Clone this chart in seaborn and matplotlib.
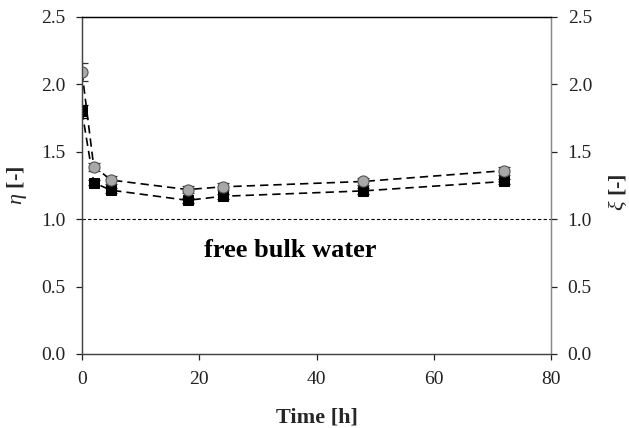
import numpy as np
import pandas as pd
import matplotlib
matplotlib.use("Agg")
import matplotlib.pyplot as plt
import seaborn as sns

# Measured values
time_h = [0, 2, 5, 18, 24, 48, 72]
eta = [2.09, 1.39, 1.29, 1.22, 1.24, 1.28, 1.36]
eta_err = [0.065, 0.03, 0.03, 0.025, 0.025, 0.025, 0.03]
xi = [1.80, 1.27, 1.215, 1.14, 1.17, 1.21, 1.28]
xi_err = [0.05, 0.02, 0.02, 0.02, 0.02, 0.02, 0.02]

y_ticks = [0.0, 0.5, 1.0, 1.5, 2.0, 2.5]
x_ticks = [0, 20, 40, 60, 80]

df = pd.DataFrame({"time": time_h, "eta": eta, "eta_err": eta_err,
                   "xi": xi, "xi_err": xi_err})

sns.set_theme(style="ticks")
plt.rcParams["font.family"] = ["Liberation Serif", "DejaVu Serif"]
plt.rcParams["mathtext.fontset"] = "custom"
plt.rcParams["mathtext.rm"] = "Liberation Serif"
plt.rcParams["mathtext.it"] = "Liberation Serif:italic"
plt.rcParams["mathtext.bf"] = "Liberation Serif:bold"

fig = plt.figure(figsize=(6.29, 4.28), dpi=100)
ax = fig.add_axes([0.1304, 0.1729, 0.876 - 0.1304, 0.9603 - 0.1729])
ax2 = ax.twinx()

# reference level of free bulk water
ax.axhline(1.0, color="black", lw=0.8, ls=(0, (3, 2)), zorder=1)

# error bars first, then dashed lines with markers
ax.errorbar(df["time"], df["xi"], yerr=df["xi_err"], fmt="none",
            ecolor="black", elinewidth=0.9, capsize=4, capthick=0.9, zorder=2)
ax.errorbar(df["time"], df["eta"], yerr=df["eta_err"], fmt="none",
            ecolor="#333333", elinewidth=0.9, capsize=4, capthick=0.9, zorder=2)

sns.lineplot(data=df, x="time", y="xi", ax=ax, color="black", lw=1.2,
             linestyle=(0, (5, 3)), marker="s", markersize=7,
             markerfacecolor="black", markeredgecolor="black", zorder=3)
sns.lineplot(data=df, x="time", y="eta", ax=ax, color="black", lw=1.2,
             linestyle=(0, (5, 3)), marker="o", markersize=8,
             markerfacecolor="#a8a8a8", markeredgecolor="#555555",
             markeredgewidth=0.8, zorder=4)

ax.text(35.5, 0.77, "free bulk water", ha="center", va="center",
        fontsize=19, fontweight="bold", color="black")

for a in (ax, ax2):
    a.set_ylim(0, 2.5)
    a.set_yticks(y_ticks)
    a.set_yticklabels([f"{v:.1f}" for v in y_ticks])
    a.tick_params(axis="both", direction="out", length=4, width=0.9,
                  labelsize=14, colors="#222222", pad=8)

ax.set_xlim(0, 80)
ax.set_xticks(x_ticks)
ax.set_xticklabels([str(v) for v in x_ticks])

ax.set_xlabel("Time [h]", fontsize=16, fontweight="bold", labelpad=14)
ax.set_ylabel(r"$\eta$ [-]", fontsize=16, fontweight="bold",
              rotation=90, va="center", ha="center")
ax.yaxis.set_label_coords(-0.138, 0.5)
ax2.set_ylabel(r"$\xi$ [-]", fontsize=16, fontweight="bold",
               rotation=90, va="center", ha="center")
ax2.yaxis.set_label_coords(1.141, 0.48)

for a in (ax, ax2):
    a.spines["top"].set_visible(True)
    a.spines["top"].set_color("black")
    a.spines["bottom"].set_color("#444444")
    a.spines["left"].set_color("#444444")
    a.spines["right"].set_color("#888888")
    for s in a.spines.values():
        s.set_linewidth(0.9)

fig.savefig("out.png", dpi=100, facecolor="white")
